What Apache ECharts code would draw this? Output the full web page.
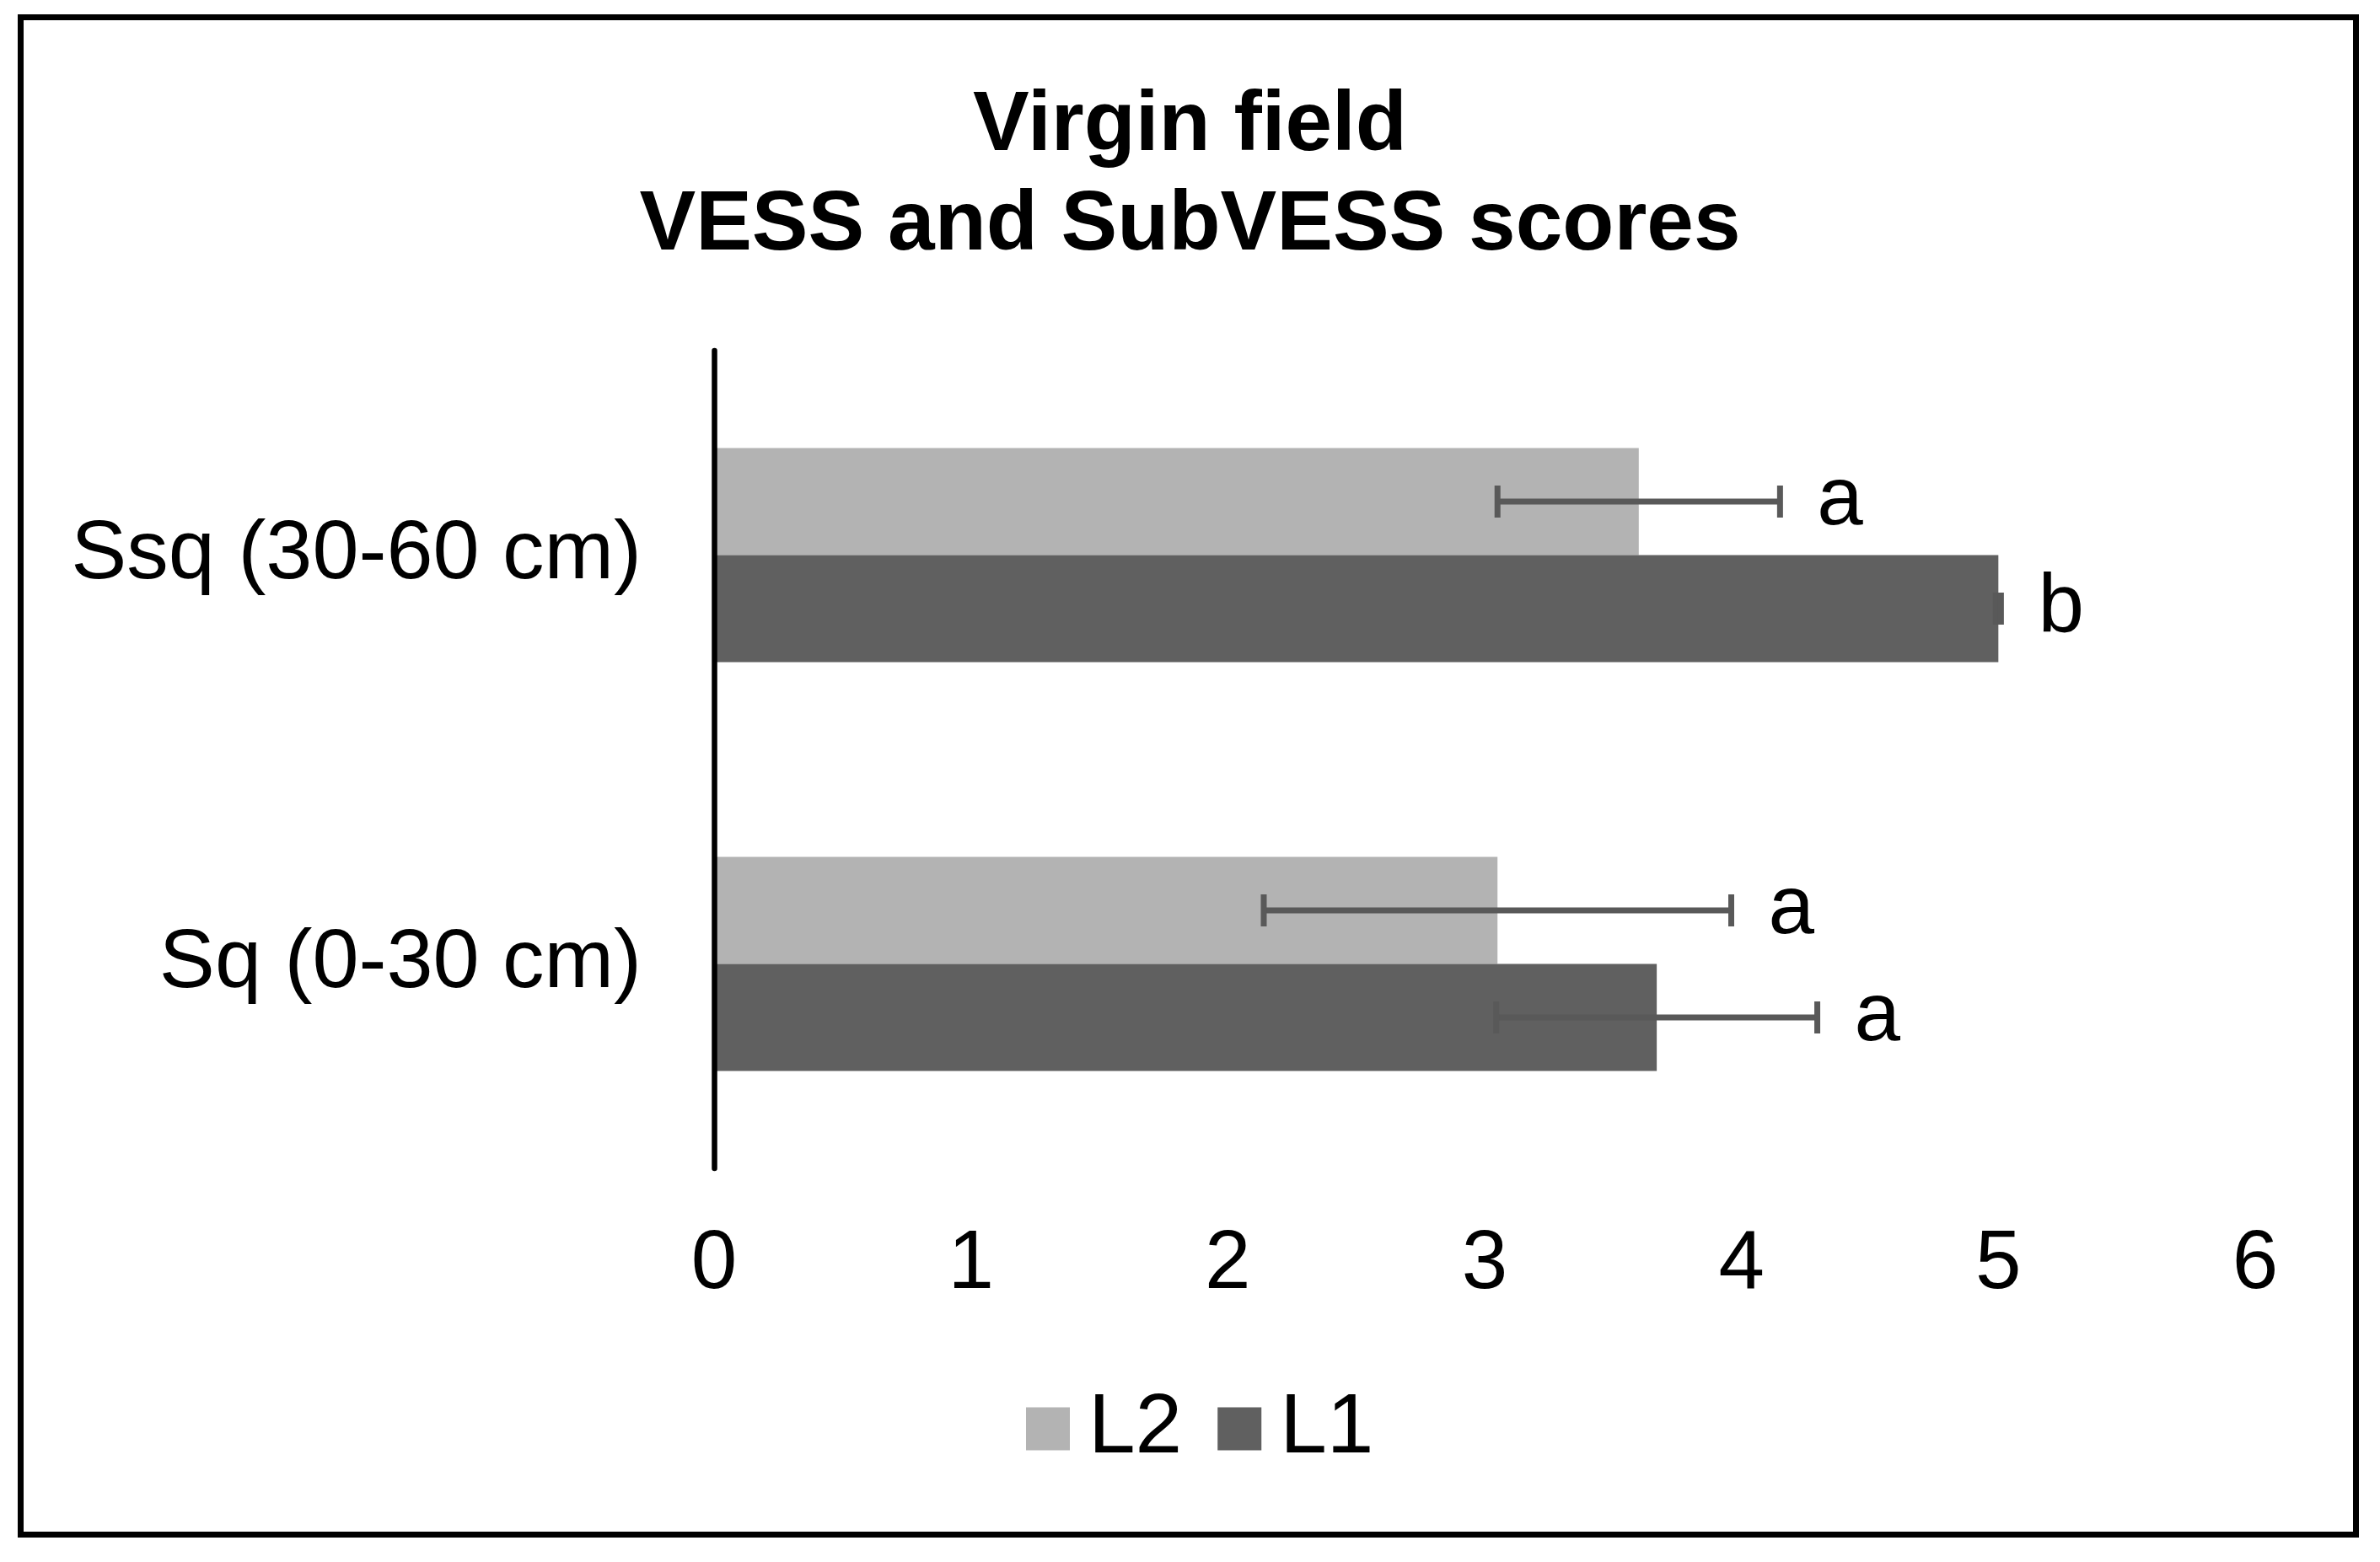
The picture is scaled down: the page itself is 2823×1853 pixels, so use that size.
<!DOCTYPE html>
<html>
<head>
<meta charset="utf-8">
<script src="https://cdn.jsdelivr.net/npm/echarts@6/dist/echarts.min.js"></script>
<style>
  html, body { margin: 0; padding: 0; background: #fff; }
  #chart { width: 2823px; height: 1853px; }
</style>
</head>
<body>
<div id="chart"></div>
<script>
// ---- data ----
const categories = ['Sq (0-30 cm)', 'Ssq (30-60 cm)'];
const seriesNames = ['L2', 'L1'];
const l2Values = [3.05, 3.60];
const l1Values = [3.67, 5.00];
const l2Errors = [0.91, 0.55];
const l1Errors = [0.625, 0.01];
const l2Letters = ['a', 'a'];
const l1Letters = ['a', 'b'];
const xTickMin = 0, xTickMax = 6, xTickStep = 1;

// ---- styling ----
const FONT = "'Liberation Sans', Arial, sans-serif";
const COLOR_L2 = '#b3b3b3';
const COLOR_L1 = '#606060';
const ERR_COLOR = '#595959';
const BAR_W = 127;

const chart = echarts.init(document.getElementById('chart'), null, { renderer: 'canvas' });

function errSeries(values, errors, letters, sign, name) {
  return {
    type: 'custom',
    name: name + ' error',
    z: 10,
    silent: true,
    data: values.map((v, i) => [v, i, errors[i]]),
    renderItem: function (params, api) {
      const v = api.value(0), ci = api.value(1), e = api.value(2);
      const c = api.coord([v, ci]);
      const y = c[1] + sign * BAR_W / 2;
      const lo = api.coord([v - e, ci])[0];
      const hi = api.coord([v + e, ci])[0];
      const cap = 19;
      const st = { stroke: ERR_COLOR, lineWidth: 7 };
      return {
        type: 'group',
        children: [
          { type: 'line', shape: { x1: lo, y1: y, x2: hi, y2: y }, style: st },
          { type: 'line', shape: { x1: lo, y1: y - cap, x2: lo, y2: y + cap }, style: st },
          { type: 'line', shape: { x1: hi, y1: y - cap, x2: hi, y2: y + cap }, style: st },
          { type: 'text', x: hi + 44, y: y,
            style: { text: letters[params.dataIndex], fill: '#000', font: '98px ' + FONT,
                     textAlign: 'left', textVerticalAlign: 'middle' } }
        ]
      };
    }
  };
}

const option = {
  backgroundColor: '#ffffff',
  animation: false,
  title: {
    text: 'Virgin field\nVESS and SubVESS scores',
    left: 'center',
    top: 86,
    textStyle: { fontFamily: FONT, fontWeight: 'bold', fontSize: 100, lineHeight: 118, color: '#000' }
  },
  legend: {
    data: seriesNames,
    left: 1212,
    top: 1640,
    icon: 'rect',
    itemWidth: 52,
    itemHeight: 51,
    itemGap: 42,
    textStyle: { fontFamily: FONT, fontSize: 100, lineHeight: 100, color: '#000', padding: [0, 0, 0, 17] }
  },
  grid: { left: 847, right: 148, top: 416, bottom: 1853 - 1386, containLabel: false },
  xAxis: {
    type: 'value',
    min: xTickMin, max: xTickMax, interval: xTickStep,
    axisLine: { show: false },
    axisTick: { show: false },
    splitLine: { show: false },
    axisLabel: { fontFamily: FONT, fontSize: 98, lineHeight: 98, color: '#000', margin: 66 }
  },
  yAxis: {
    type: 'category',
    data: categories,
    z: 20,
    axisLine: { show: true, lineStyle: { color: '#000', width: 6.5 } },
    axisTick: { show: false },
    axisLabel: { fontFamily: FONT, fontSize: 99, color: '#000', margin: 86 }
  },
  series: [
    { type: 'bar', name: 'L2', data: l2Values, barWidth: BAR_W, barGap: '0%',
      itemStyle: { color: COLOR_L2 } },
    { type: 'bar', name: 'L1', data: l1Values, barWidth: BAR_W, barGap: '0%',
      itemStyle: { color: COLOR_L1 } },
    errSeries(l2Values, l2Errors, l2Letters, -1, 'L2'),
    errSeries(l1Values, l1Errors, l1Letters, 1, 'L1')
  ],
  graphic: [
    { type: 'rect', z: 100, silent: true,
      shape: { x: 24.5, y: 20.5, width: 2770, height: 1800 },
      style: { fill: 'none', stroke: '#000', lineWidth: 7 } }
  ]
};

chart.setOption(option);
</script>
</body>
</html>
